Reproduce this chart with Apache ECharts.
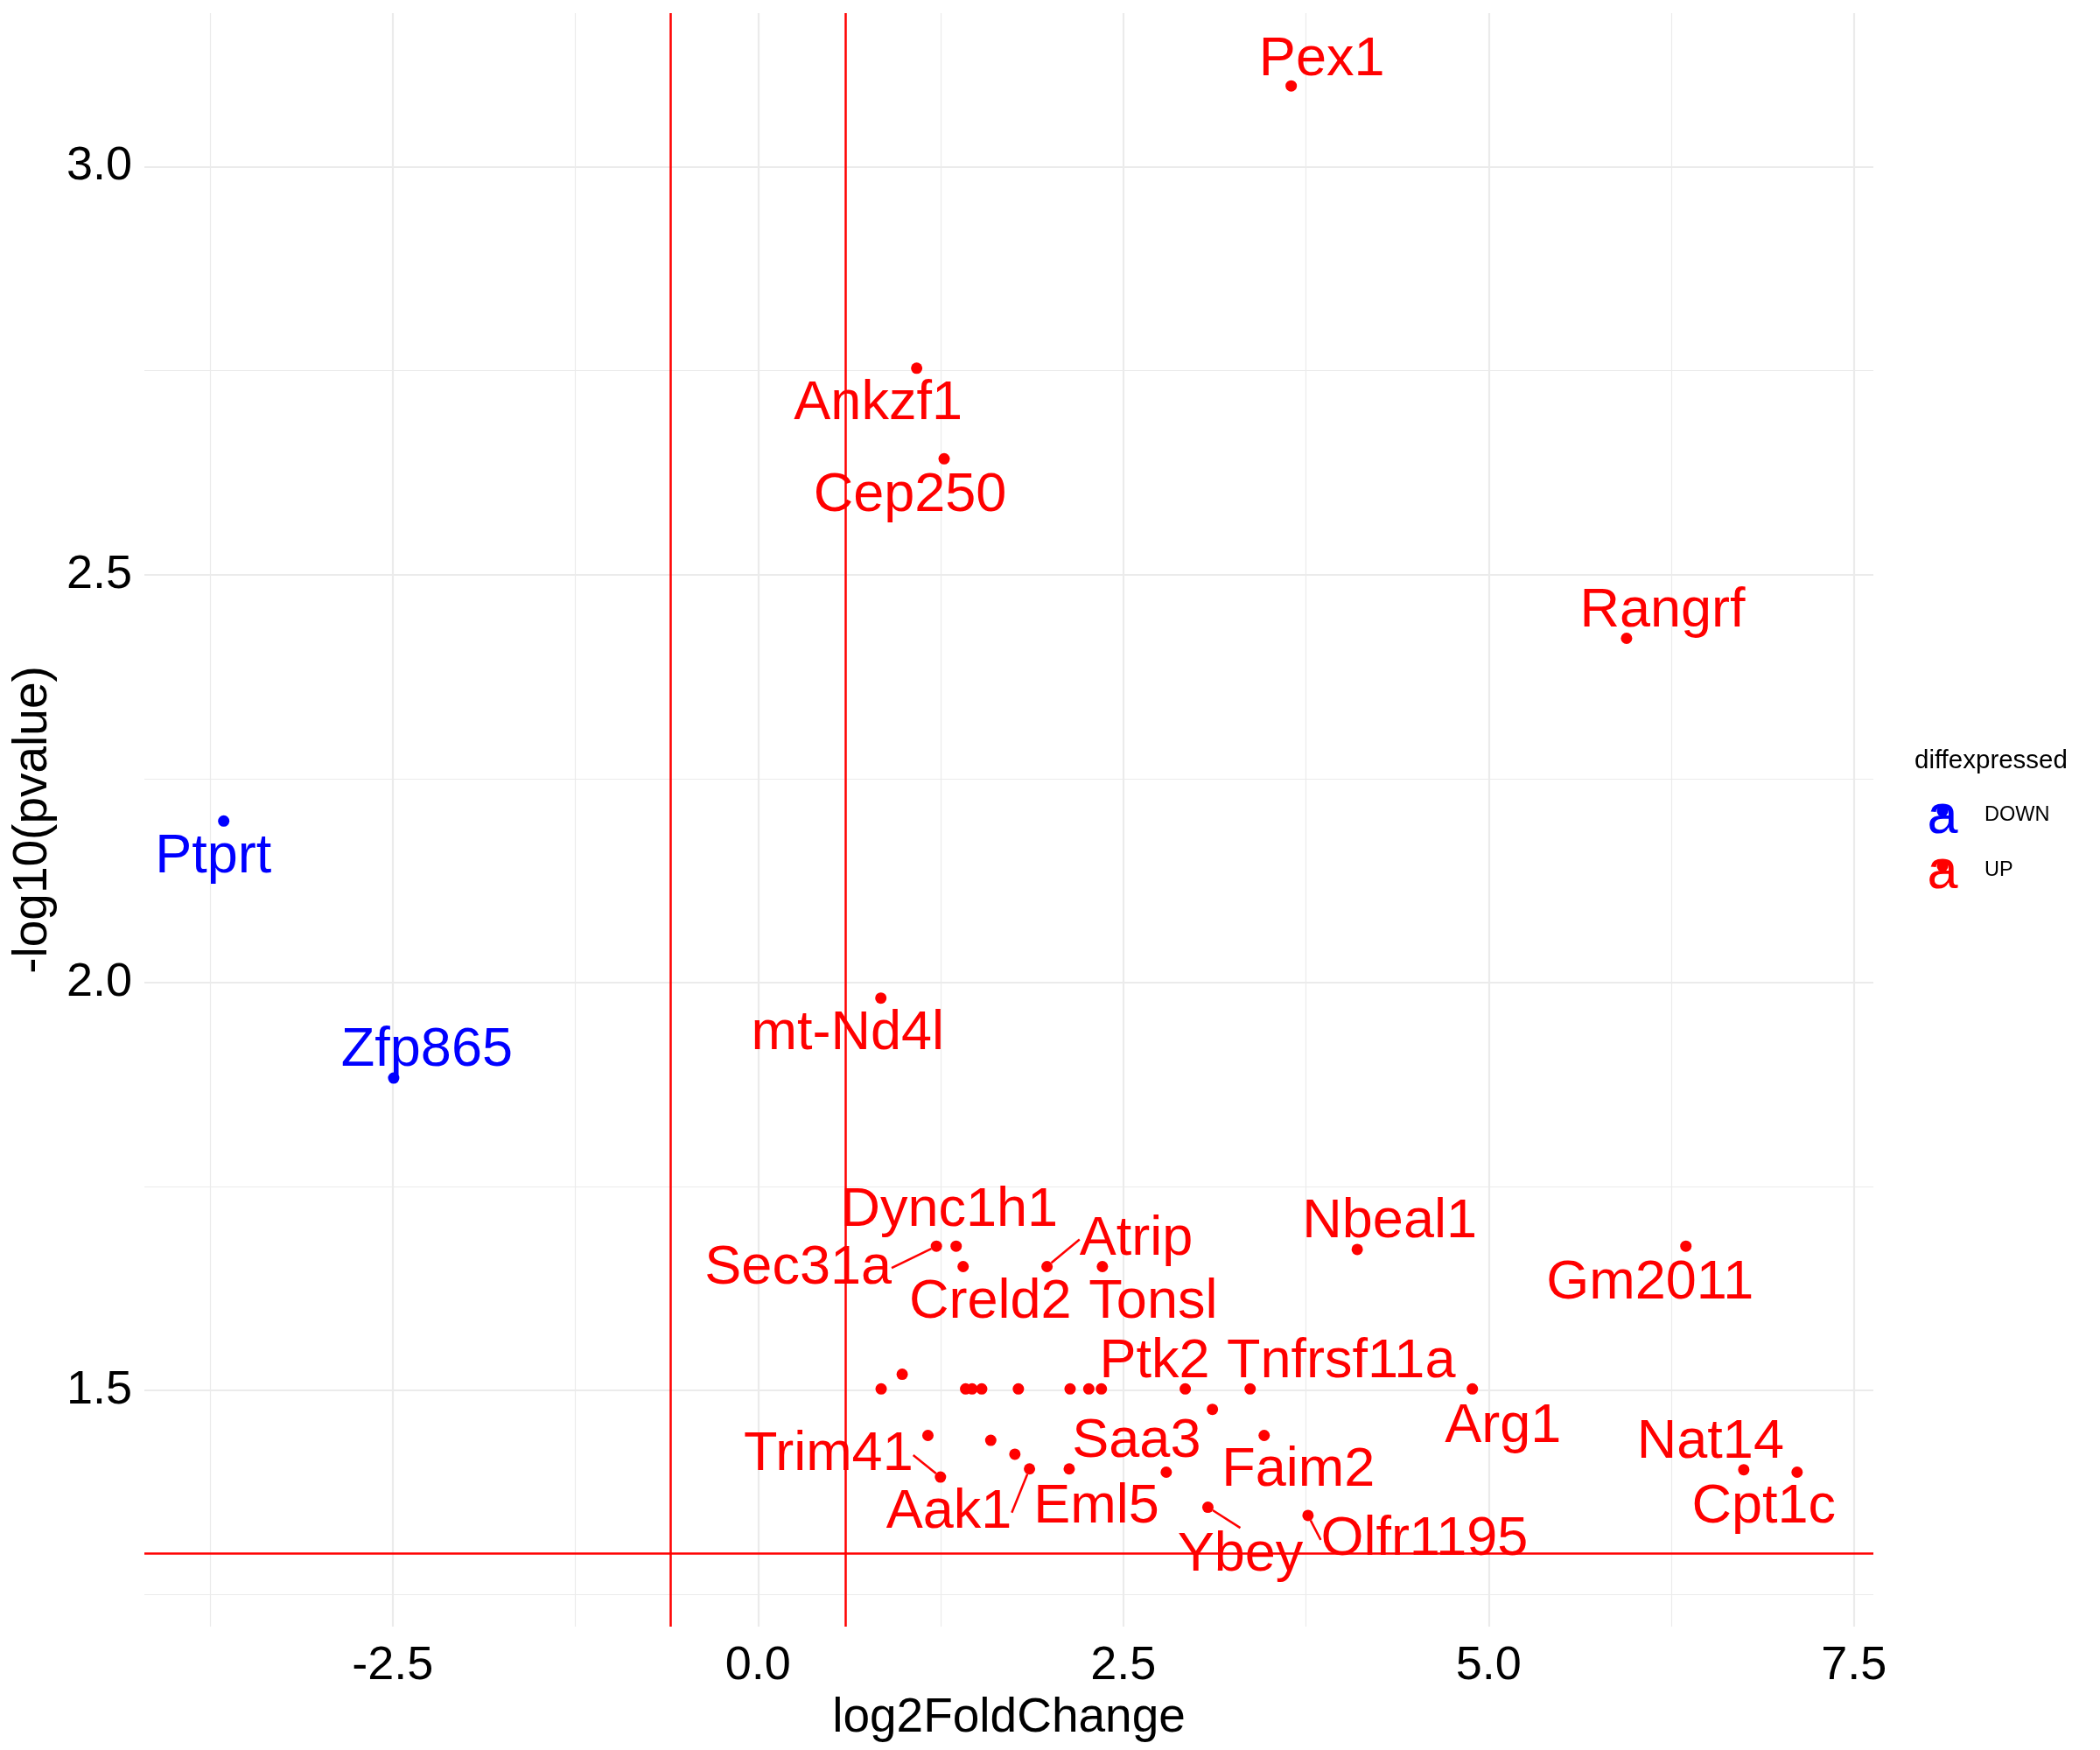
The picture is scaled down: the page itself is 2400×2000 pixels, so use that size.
<!DOCTYPE html>
<html>
<head>
<meta charset="utf-8">
<script src="https://cdn.jsdelivr.net/npm/echarts@6/dist/echarts.min.js"></script>
<style>
html,body{margin:0;padding:0;background:#ffffff;}
#chart{width:2400px;height:2000px;}
</style>
</head>
<body>
<div id="chart"></div>
<script>
// ---------------- data ----------------
const genes = ['Ptprt','Zfp865','Pex1','Ankzf1','Cep250','Rangrf','mt-Nd4l','Sec31a','Dync1h1','Creld2',
  'Atrip','Tonsl','Nbeal1','Gm2011','Ptk2','Tnfrsf11a','Arg1','Saa3','Faim2','Trim41',
  'Aak1','Eml5','Ybey','Olfr1195','Nat14','Cpt1c','','','','',
  '','','','','','','','',''];
const log2FoldChange = [-3.656,-2.493,3.649,1.086,1.274,5.944,0.841,1.221,1.356,1.404,
  1.978,2.357,4.101,6.350,2.924,3.368,4.889,2.794,3.464,1.249,
  1.858,2.130,3.079,3.764,6.746,7.111,0.843,0.987,1.421,1.465,
  1.531,1.782,2.136,2.264,2.350,3.110,1.163,1.593,1.758];
const negLog10P = [2.198,1.883,3.099,2.753,2.642,2.422,1.981,1.677,1.677,1.652,
  1.652,1.652,1.673,1.677,1.502,1.502,1.502,1.400,1.445,1.394,
  1.404,1.404,1.357,1.347,1.403,1.400,1.502,1.520,1.502,1.502,
  1.502,1.502,1.502,1.502,1.502,1.477,1.445,1.439,1.422];
const diffexpressed = ['DOWN','DOWN','UP','UP','UP','UP','UP','UP','UP','UP',
  'UP','UP','UP','UP','UP','UP','UP','UP','UP','UP',
  'UP','UP','UP','UP','UP','UP','UP','UP','UP','UP',
  'UP','UP','UP','UP','UP','UP','UP','UP','UP'];
const groups = ['DOWN','UP'];
const xTicks = [-2.5, 0, 2.5, 5, 7.5];
const xMinor = [-3.75, -1.25, 1.25, 3.75, 6.25];
const yTicks = [1.5, 2.0, 2.5, 3.0];
const yMinor = [1.25, 1.75, 2.25, 2.75];
const fcCutoffs = [-0.6, 0.6];
const pCutoff = 1.301;

// ---------------- styling (label placement, not data) ----------------
const groupColors = {DOWN:'#0000FF', UP:'#FF0000'};
const labelOffsets = {
  'Ptprt':[-12,41],'Zfp865':[38,-31],'Pex1':[35,-30],'Ankzf1':[-44,41],'Cep250':[-39,42],
  'Rangrf':[41,-31],'mt-Nd4l':[-38,41],'Sec31a':[-158,25],'Dync1h1':[-8,-41],'Creld2':[31,41],
  'Atrip':[102,-31],'Tonsl':[58,41],'Nbeal1':[37,-31],'Gm2011':[-41,42],'Ptk2':[-35,-31],
  'Tnfrsf11a':[104,-31],'Arg1':[35,43],'Saa3':[-34,-35],'Faim2':[39,40],'Trim41':[-128,-25],
  'Aak1':[-92,50],'Eml5':[31,44],'Ybey':[37,55],'Olfr1195':[133,28],'Nat14':[-38,-31],'Cpt1c':[-38,40]
};
const segmentGenes = ['Sec31a','Atrip','Trim41','Aak1','Ybey','Olfr1195'];
const FONT = 'Liberation Sans, Arial, Helvetica, sans-serif';
const panel = {left:165, right:259, top:15, bottom:141};
const xRange = [-4.199, 7.633];
const yRange = [1.2107, 3.1882];

// ---------------- build ----------------
function seriesData(g){
  const out = [];
  for (let i = 0; i < genes.length; i++) {
    if (diffexpressed[i] !== g) continue;
    const item = {name: genes[i], value:[log2FoldChange[i], negLog10P[i]]};
    if (!genes[i]) item.label = {show:false};
    if (segmentGenes.indexOf(genes[i]) >= 0) item.labelLine = {show:true};
    out.push(item);
  }
  return out;
}

const gridLineData = [];
xTicks.forEach(v => gridLineData.push({xAxis:v, lineStyle:{color:'#EBEBEB', width:2.2, type:'solid'}}));
xMinor.forEach(v => gridLineData.push({xAxis:v, lineStyle:{color:'#EBEBEB', width:1.2, type:'solid'}}));
yTicks.forEach(v => gridLineData.push({yAxis:v, lineStyle:{color:'#EBEBEB', width:2.2, type:'solid'}}));
yMinor.forEach(v => gridLineData.push({yAxis:v, lineStyle:{color:'#EBEBEB', width:1.2, type:'solid'}}));

const cutLineData = [];
fcCutoffs.forEach(v => cutLineData.push({xAxis:v}));
cutLineData.push({yAxis:pCutoff});

const pointSeries = groups.map(g => ({
  type:'scatter',
  name:g,
  z:3,
  symbol:'circle',
  symbolSize:13,
  itemStyle:{color:groupColors[g], opacity:1},
  data: seriesData(g),
  label:{
    show:true,
    position:'inside',
    formatter:'{b}',
    color:groupColors[g],
    fontSize:63,
    fontFamily:FONT,
    textBorderWidth:0,
    textShadowBlur:0
  },
  labelLine:{show:false, length2:0, smooth:false, lineStyle:{color:groupColors[g], width:2.5}},
  labelLayout: function(params){
    const o = labelOffsets[params.text];
    return o ? {dx:o[0], dy:o[1]} : {};
  },
  emphasis:{disabled:true},
  animation:false
}));

const option = {
  backgroundColor:'#ffffff',
  animation:false,
  grid:{left:panel.left, right:panel.right, top:panel.top, bottom:panel.bottom, containLabel:false, outerBoundsMode:'none'},
  xAxis:{
    type:'value', min:xRange[0], max:xRange[1],
    axisLine:{show:false}, axisTick:{show:false}, splitLine:{show:false},
    axisLabel:{customValues:xTicks, formatter:v => Number(v).toFixed(1), fontSize:54, color:'#000000', fontFamily:FONT, margin:18},
    name:'log2FoldChange', nameLocation:'middle', nameGap:70,
    nameTextStyle:{fontSize:55, color:'#000000', fontFamily:FONT}
  },
  yAxis:{
    type:'value', min:yRange[0], max:yRange[1],
    axisLine:{show:false}, axisTick:{show:false}, splitLine:{show:false},
    axisLabel:{customValues:yTicks, formatter:v => Number(v).toFixed(1), fontSize:54, color:'#000000', fontFamily:FONT, margin:14, padding:[13,0,0,0]},
    name:'-log10(pvalue)', nameLocation:'middle', nameGap:100,
    nameTextStyle:{fontSize:55, color:'#000000', fontFamily:FONT}
  },
  series:[
    {type:'line', data:[], z:0, silent:true,
     markLine:{z:0, silent:true, symbol:['none','none'], label:{show:false}, animation:false, emphasis:{disabled:true}, data:gridLineData}},
    {type:'line', data:[], z:1, silent:true,
     markLine:{z:1, silent:true, symbol:['none','none'], label:{show:false}, animation:false, emphasis:{disabled:true},
       lineStyle:{color:'#FF0000', width:2.5, type:'solid'}, data:cutLineData}}
  ].concat(pointSeries),
  graphic:[
    {type:'text', x:2188, y:870, style:{text:'diffexpressed', font:'29.5px ' + FONT, fill:'#000000', textAlign:'left', textVerticalAlign:'middle'}},
    {type:'text', x:2220, y:934.5, style:{text:'a', font:'63px ' + FONT, fill:groupColors.DOWN, textAlign:'center', textVerticalAlign:'middle'}},
    {type:'circle', shape:{cx:2220, cy:927, r:6.5}, style:{fill:groupColors.DOWN}},
    {type:'text', x:2268, y:932, style:{text:'DOWN', font:'23.5px ' + FONT, fill:'#000000', textAlign:'left', textVerticalAlign:'middle'}},
    {type:'text', x:2220, y:998, style:{text:'a', font:'63px ' + FONT, fill:groupColors.UP, textAlign:'center', textVerticalAlign:'middle'}},
    {type:'circle', shape:{cx:2220, cy:990, r:6.5}, style:{fill:groupColors.UP}},
    {type:'text', x:2268, y:995, style:{text:'UP', font:'23.5px ' + FONT, fill:'#000000', textAlign:'left', textVerticalAlign:'middle'}}
  ]
};

const chart = echarts.init(document.getElementById('chart'), null, {renderer:'canvas', width:2400, height:2000});
chart.setOption(option);
</script>
</body>
</html>
